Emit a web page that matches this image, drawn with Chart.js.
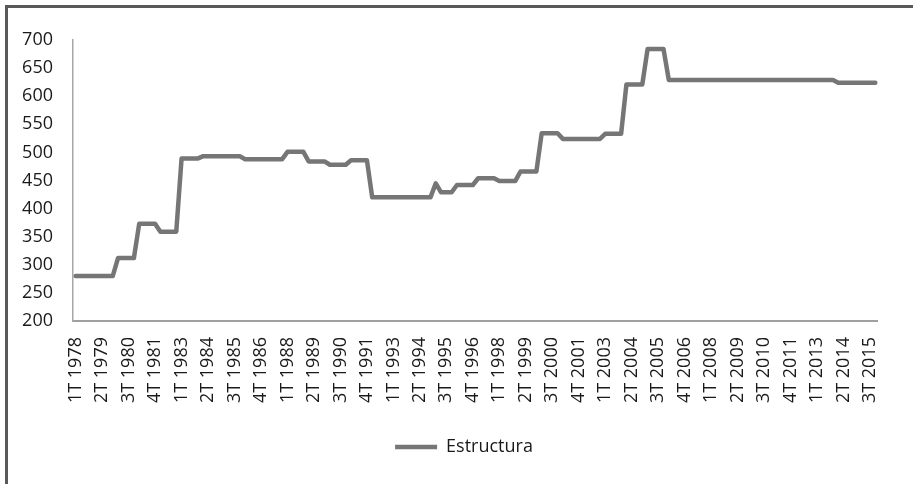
<!DOCTYPE html>
<html>
<head>
<meta charset="utf-8">
<title>Estructura</title>
<script src="https://cdn.jsdelivr.net/npm/chart.js@4.4.1/dist/chart.umd.min.js"></script>
<style>
  html, body { margin: 0; padding: 0; background: #fff; overflow: hidden; }
  #wrap { position: relative; width: 913px; height: 484px; }
  /* dark frame of the original chart box (only left and top edges visible) */
  #frame {
    position: absolute; left: 5px; top: 5px; width: 1000px; height: 1000px;
    border-left: 3px solid #595959; border-top: 3px solid #595959;
  }
  #chart { position: absolute; left: 0; top: 0; }
</style>
</head>
<body>
<div id="wrap">
  <div id="frame"></div>
  <canvas id="chart" width="913" height="484"></canvas>
</div>
<script>
// quarters 1T 1978 .. 4T 2015
const years = [];
for (let y = 1978; y <= 2015; y++) years.push(y);
const quarters = ['1T', '2T', '3T', '4T'];
const labels = [];
years.forEach(y => quarters.forEach(q => labels.push(q + ' ' + y)));

// Estructura values, one row per year (4 quarters)
const estructura = [
  280, 280, 280, 280,  // 1978
  280, 280, 280, 280,  // 1979
  312, 312, 312, 312,  // 1980
  373, 373, 373, 373,  // 1981
  359, 359, 359, 359,  // 1982
  489, 489, 489, 489,  // 1983
  493, 493, 493, 493,  // 1984
  493, 493, 493, 493,  // 1985
  488, 488, 488, 488,  // 1986
  488, 488, 488, 488,  // 1987
  501, 501, 501, 501,  // 1988
  484, 484, 484, 484,  // 1989
  478, 478, 478, 478,  // 1990
  486, 486, 486, 486,  // 1991
  420, 420, 420, 420,  // 1992
  420, 420, 420, 420,  // 1993
  420, 420, 420, 420,  // 1994
  445, 429, 429, 429,  // 1995
  442, 442, 442, 442,  // 1996
  454, 454, 454, 454,  // 1997
  449, 449, 449, 449,  // 1998
  466, 466, 466, 466,  // 1999
  534, 534, 534, 534,  // 2000
  524, 524, 524, 524,  // 2001
  524, 524, 524, 524,  // 2002
  533, 533, 533, 533,  // 2003
  621, 621, 621, 621,  // 2004
  684, 684, 684, 684,  // 2005
  629, 629, 629, 629,  // 2006
  629, 629, 629, 629,  // 2007
  629, 629, 629, 629,  // 2008
  629, 629, 629, 629,  // 2009
  629, 629, 629, 629,  // 2010
  629, 629, 629, 629,  // 2011
  629, 629, 629, 629,  // 2012
  629, 629, 629, 629,  // 2013
  624, 624, 624, 624,  // 2014
  624, 624, 624, 624   // 2015
];

const yMin = 200;
const yMax = 700;
const yStep = 50;
const labelEvery = 5; // Excel shows every 5th quarter

const font = { family: "'Open Sans', 'Noto Sans', sans-serif", size: 18 };

// nudge the legend a bit right, the original centres it on the whole box
const legendShift = {
  id: 'legendShift',
  afterLayout(chart) {
    if (chart.legend) {
      chart.legend.left += 15;
      chart.legend.right += 15;
    }
  }
};

new Chart(document.getElementById('chart'), {
  type: 'line',
  data: {
    labels: labels,
    datasets: [{
      label: 'Estructura',
      data: estructura,
      borderColor: '#767676',
      backgroundColor: '#767676',
      borderWidth: 4.5,
      borderJoinStyle: 'round',
      borderCapStyle: 'round',
      pointRadius: 0,
      tension: 0,
      fill: false
    }]
  },
  options: {
    responsive: false,
    animation: false,
    layout: { padding: { left: 10, right: 25, top: 40, bottom: 18 } },
    plugins: {
      tooltip: { enabled: false },
      legend: {
        position: 'bottom',
        labels: {
          usePointStyle: true,
          pointStyle: 'line',
          pointStyleWidth: 42,
          padding: 10,
          color: '#1a1a1a',
          font: font
        }
      }
    },
    scales: {
      x: {
        offset: true,
        grid: { display: false, drawTicks: false },
        border: { display: true, color: '#a0a0a0', width: 2 },
        ticks: {
          autoSkip: false,
          minRotation: 90,
          maxRotation: 90,
          padding: 16,
          color: '#1a1a1a',
          font: font,
          callback: function (val, i) {
            return i % labelEvery === 0 ? labels[i] : '';
          }
        },
        afterFit: function (scale) { scale.height = 107; }
      },
      y: {
        min: yMin,
        max: yMax,
        grid: { display: false, drawTicks: false },
        border: { display: true, color: '#a6a6a6', width: 1.5 },
        ticks: {
          stepSize: yStep,
          padding: 20,
          color: '#1a1a1a',
          font: font
        },
        afterFit: function (scale) { scale.width = 63; }
      }
    }
  },
  plugins: [legendShift]
});
</script>
</body>
</html>
